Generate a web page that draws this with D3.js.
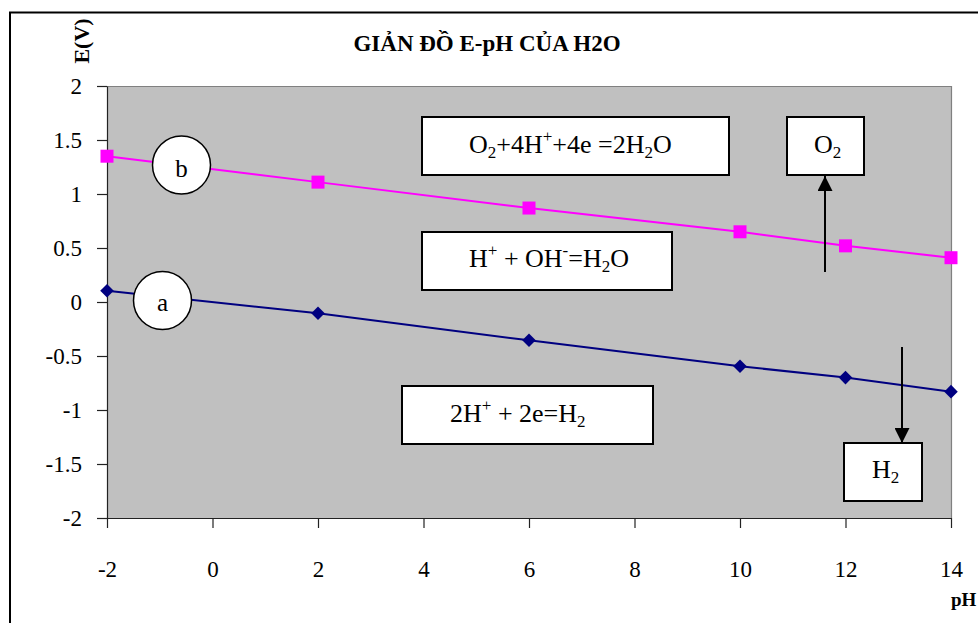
<!DOCTYPE html>
<html>
<head>
<meta charset="utf-8">
<script src="https://cdn.jsdelivr.net/npm/d3@7"></script>
<style>
  html, body { margin: 0; padding: 0; background: #fff; }
  svg { display: block; }
</style>
</head>
<body>
<svg id="chart" width="978" height="623" style="font-family:'Liberation Serif', 'Times New Roman', serif"></svg>
<script>
// pH values where each potential was computed
const phValues = [-2, 2, 6, 10, 12, 14];
// line (b): O2 + 4H+ + 4e = 2H2O
const seriesB = [1.35, 1.11, 0.87, 0.65, 0.52, 0.41];
// line (a): 2H+ + 2e = H2
const seriesA = [0.105, -0.105, -0.355, -0.595, -0.70, -0.83];

const xTicks = [-2, 0, 2, 4, 6, 8, 10, 12, 14];
const xTickLabels = ["-2", "0", "2", "4", "6", "8", "10", "12", "14"];
const yTicks = [-2, -1.5, -1, -0.5, 0, 0.5, 1, 1.5, 2];
const yTickLabels = ["-2", "-1.5", "-1", "-0.5", "0", "0.5", "1", "1.5", "2"];

const titleText = "GIẢN ĐỒ E-pH CỦA H2O";
const yAxisTitle = "E(V)";
const xAxisTitle = "pH";

const FONT = "'Liberation Serif', 'Times New Roman', serif";
const svg = d3.select("#chart");

const plot = { left: 107, right: 951, top: 86, bottom: 518 };
const x = d3.scaleLinear().domain([-2, 14]).range([plot.left, plot.right]);
const y = d3.scaleLinear().domain([-2, 2]).range([plot.bottom, plot.top]);

// outer chart frame (runs off the right and bottom edges)
svg.append("rect")
  .attr("x", 10).attr("y", 12.5)
  .attr("width", 1100).attr("height", 800)
  .attr("fill", "none").attr("stroke", "#000").attr("stroke-width", 2);

// plot area
svg.append("rect")
  .attr("x", plot.left).attr("y", plot.top)
  .attr("width", plot.right - plot.left).attr("height", plot.bottom - plot.top)
  .attr("fill", "#C0C0C0");
svg.append("path")
  .attr("d", `M${plot.left},${plot.top + 0.5}H${plot.right + 0.5}V${plot.bottom}`)
  .attr("fill", "none").attr("stroke", "#808080").attr("stroke-width", 1.2);

// axes
const yAxis = d3.axisLeft(y)
  .tickValues(yTicks)
  .tickFormat((d, i) => yTickLabels[i])
  .tickSize(10).tickSizeOuter(0).tickPadding(15);
const gy = svg.append("g").attr("transform", `translate(${plot.left},0)`).call(yAxis);

const xAxis = d3.axisBottom(x)
  .tickValues(xTicks)
  .tickFormat((d, i) => xTickLabels[i])
  .tickSize(10).tickSizeOuter(0).tickPadding(0);
const gx = svg.append("g").attr("transform", `translate(0,${plot.bottom})`).call(xAxis);

[gx, gy].forEach(g => {
  g.attr("font-family", null).attr("font-size", null);
  g.select(".domain").attr("stroke", "#222").attr("stroke-width", 1.2);
  g.selectAll(".tick line").attr("stroke", "#222").attr("stroke-width", 1.2);
  g.selectAll(".tick text")
    .style("font-family", FONT)
    .style("font-size", "23px").attr("fill", "#000");
});
gy.selectAll(".tick text").attr("dy", "0.33em");
gx.selectAll(".tick text").attr("y", 59).attr("dy", 0);

// data lines
const line = d3.line().x(d => x(d[0])).y(d => y(d[1]));
const ptsB = phValues.map((p, i) => [p, seriesB[i]]);
const ptsA = phValues.map((p, i) => [p, seriesA[i]]);

svg.append("path").datum(ptsB).attr("d", line)
  .attr("fill", "none").attr("stroke", "#FF00FF").attr("stroke-width", 2);
svg.append("path").datum(ptsA).attr("d", line)
  .attr("fill", "none").attr("stroke", "#000080").attr("stroke-width", 2);

// markers
svg.append("g").selectAll("rect").data(ptsB).join("rect")
  .attr("x", d => x(d[0]) - 6.5).attr("y", d => y(d[1]) - 6.5)
  .attr("width", 13).attr("height", 13)
  .attr("fill", "#FF00FF");
svg.append("g").selectAll("path").data(ptsA).join("path")
  .attr("transform", d => `translate(${x(d[0])},${y(d[1])}) rotate(45)`)
  .attr("d", d3.symbol().type(d3.symbolSquare).size(92))
  .attr("fill", "#000080");

function addText(parent) {
  return parent.append("text").style("font-family", FONT).attr("fill", "#000");
}

// circled line labels
const circleLabels = [
  { t: "b", cx: 181.5, cy: 165, by: 177 },
  { t: "a", cx: 162.5, cy: 300.5, by: 311 }
];
circleLabels.forEach(c => {
  svg.append("circle").attr("cx", c.cx).attr("cy", c.cy).attr("r", 29)
    .attr("fill", "#fff").attr("stroke", "#000").attr("stroke-width", 1.5);
  addText(svg).attr("x", c.cx).attr("y", c.by)
    .attr("text-anchor", "middle").style("font-size", "25px").text(c.t);
});

// reaction boxes: text pieces, with "sub"/"sup" for indices and charges
const boxes = [
  { x0: 422, y0: 117, x1: 729, y1: 175, tx: 469, ty: 153,
    parts: [["O"], ["2", "sub"], ["+4H"], ["+", "sup"], ["+4e =2H"], ["2", "sub"], ["O"]] },
  { x0: 787, y0: 117, x1: 864, y1: 175, tx: 814, ty: 153,
    parts: [["O"], ["2", "sub"]] },
  { x0: 422, y0: 232, x1: 672, y1: 290, tx: 469, ty: 267,
    parts: [["H"], ["+", "sup"], [" + OH"], ["-", "sup"], ["=H"], ["2", "sub"], ["O"]] },
  { x0: 402, y0: 386, x1: 653, y1: 444, tx: 450, ty: 422,
    parts: [["2H"], ["+", "sup"], [" + 2e=H"], ["2", "sub"]] },
  { x0: 844, y0: 443, x1: 922, y1: 501, tx: 872, ty: 478,
    parts: [["H"], ["2", "sub"]] }
];

// arrows pointing at the O2 and H2 boxes
const defs = svg.append("defs");
defs.append("marker").attr("id", "head")
  .attr("viewBox", "0 0 10 10").attr("refX", 10).attr("refY", 5)
  .attr("markerWidth", 15).attr("markerHeight", 15)
  .attr("markerUnits", "userSpaceOnUse").attr("orient", "auto")
  .append("path").attr("d", "M0,0L10,5L0,10Z").attr("fill", "#000");
const arrows = [
  { x1: 825, y1: 272, x2: 825, y2: 176 },
  { x1: 902, y1: 347, x2: 902, y2: 443 }
];
arrows.forEach(a => {
  svg.append("line").attr("x1", a.x1).attr("y1", a.y1).attr("x2", a.x2).attr("y2", a.y2)
    .attr("stroke", "#000").attr("stroke-width", 2).attr("marker-end", "url(#head)");
});

boxes.forEach(b => {
  svg.append("rect").attr("x", b.x0).attr("y", b.y0)
    .attr("width", b.x1 - b.x0).attr("height", b.y1 - b.y0)
    .attr("fill", "#fff").attr("stroke", "#000").attr("stroke-width", 2);
  const t = addText(svg).attr("x", b.tx).attr("y", b.ty).style("font-size", "26px");
  let shift = 0;
  b.parts.forEach(([s, kind]) => {
    const target = kind === "sub" ? 5 : kind === "sup" ? -11 : 0;
    t.append("tspan")
      .attr("dy", target - shift)
      .style("font-size", kind ? "17px" : "26px")
      .text(s);
    shift = target;
  });
});

// titles
addText(svg).attr("x", 487).attr("y", 51)
  .attr("text-anchor", "middle").style("font-weight", "bold").style("font-size", "23px")
  .text(titleText);
addText(svg)
  .attr("transform", "translate(89,41) rotate(-90)")
  .attr("text-anchor", "middle").style("font-weight", "bold").style("font-size", "22px")
  .text(yAxisTitle);
addText(svg).attr("x", 951).attr("y", 606)
  .style("font-weight", "bold").style("font-size", "19px")
  .text(xAxisTitle);
</script>
</body>
</html>
